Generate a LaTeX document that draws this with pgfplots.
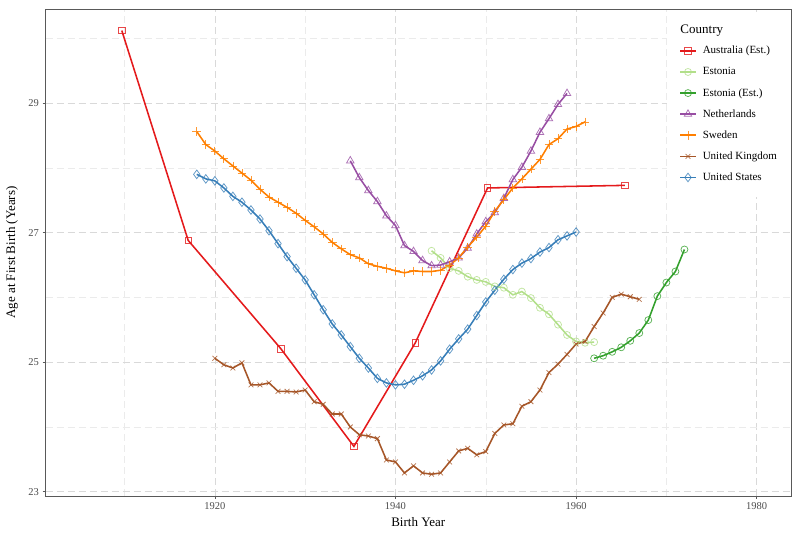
\documentclass[border=0pt]{standalone}
\usepackage{fontspec}
\setmainfont{Liberation Serif}
\usepackage{pgfplots}
\pgfplotsset{compat=1.18}
\definecolor{cAus}{HTML}{E41A1C}
\definecolor{cEst}{HTML}{B2DF8A}
\definecolor{cEstE}{HTML}{33A02C}
\definecolor{cNL}{HTML}{984EA3}
\definecolor{cSwe}{HTML}{FF7F00}
\definecolor{cUK}{HTML}{A65628}
\definecolor{cUS}{HTML}{377EB8}
\begin{document}
\begin{tikzpicture}
\path[use as bounding box] (0pt,0pt) rectangle (800pt,535pt);
\begin{axis}[
  at={(45.5pt,39pt)}, anchor=south west,
  scale only axis, width=745.5pt, height=487pt,
  xmin=1901.25, xmax=1983.8, ymin=22.934, ymax=30.453,
  xtick={1920,1940,1960,1980}, minor xtick={1910,1930,1950,1970},
  ytick={23,25,27,29}, minor ytick={24,26,28,30},
  /pgf/number format/1000 sep={},
  /pgf/number format/assume math mode=true,
  tick align=outside, tick pos=left,
  major tick length=3pt, minor tick length=0pt,
  tick style={color=black!65, line width=0.6pt},
  grid=both,
  major grid style={dash pattern=on 7pt off 4pt, color=black!15, line width=0.65pt},
  minor grid style={dash pattern=on 7pt off 4pt, color=black!8, line width=0.45pt},
  axis line style={color=black!65, line width=0.7pt},
  ticklabel style={font=\fontsize{10.5}{12}\selectfont, color=black!70},
  xlabel={Birth Year}, ylabel={Age at First Birth (Years)},
  label style={font=\fontsize{13}{15}\selectfont},
  xlabel style={at={(axis description cs:0.5,-0.0534)}, anchor=center},
  ylabel style={at={(axis description cs:-0.0449,0.5)}, anchor=center},
  legend cell align=left,
  legend style={at={(rel axis cs:0.8498,0.9247)}, anchor=north west, draw=none, fill=none,
    inner sep=0pt, row sep=11.1pt, column sep=6pt,
    font=\fontsize{11}{13}\selectfont,
    nodes={inner sep=0pt, text height=8pt, text depth=2pt}},
  legend image code/.code={\draw[mark repeat=2,mark phase=2] plot coordinates {(0pt,0pt) (8pt,0pt) (16pt,0pt)};},
  every axis plot/.append style={line width=1.55pt, mark options={solid, line width=0.75pt, draw opacity=0.8}},
]
\fill[white] (rel axis cs:0.8337,0.9877) rectangle (rel axis cs:0.9987,0.614);
\node[anchor=west, font=\fontsize{13}{15}\selectfont] at (rel axis cs:0.847,0.955) {Country};

\addplot[color=cAus, mark=square, mark size=3.3pt] table {
x y
1909.7 30.12
1917.05 26.88
1927.3 25.21
1935.4 23.70
1942.2 25.30
1950.2 27.69
1965.4 27.73
};
\addlegendentry{Australia (Est.)}

\addplot[color=cEst, mark=o, mark size=3.5pt] table {
x y
1944 26.72
1945 26.61
1946 26.45
1947 26.41
1948 26.32
1949 26.27
1950 26.24
1951 26.17
1952 26.15
1953 26.04
1954 26.09
1955 25.99
1956 25.84
1957 25.74
1958 25.58
1959 25.42
1960 25.32
1961 25.30
1962 25.31
};
\addlegendentry{Estonia}

\addplot[color=cEstE, mark=o, mark size=3.5pt] table {
x y
1962 25.06
1963 25.10
1964 25.16
1965 25.23
1966 25.33
1967 25.45
1968 25.65
1969 26.02
1970 26.23
1971 26.40
1972 26.74
};
\addlegendentry{Estonia (Est.)}

\addplot[color=cNL, mark=triangle, mark size=4.3pt] table {
x y
1935 28.11
1936 27.85
1937 27.65
1938 27.48
1939 27.26
1940 27.11
1941 26.80
1942 26.71
1943 26.57
1944 26.49
1945 26.50
1946 26.55
1947 26.61
1948 26.76
1949 26.98
1950 27.17
1951 27.31
1952 27.53
1953 27.82
1954 28.01
1955 28.26
1956 28.55
1957 28.76
1958 28.98
1959 29.15
};
\addlegendentry{Netherlands}

\addplot[color=cSwe, mark=+, mark size=4.3pt] table {
x y
1918 28.56
1919 28.36
1920 28.26
1921 28.14
1922 28.03
1923 27.92
1924 27.81
1925 27.67
1926 27.55
1927 27.47
1928 27.39
1929 27.30
1930 27.19
1931 27.09
1932 26.98
1933 26.85
1934 26.75
1935 26.66
1936 26.61
1937 26.52
1938 26.48
1939 26.45
1940 26.41
1941 26.38
1942 26.41
1943 26.40
1944 26.40
1945 26.42
1946 26.50
1947 26.61
1948 26.78
1949 26.93
1950 27.10
1951 27.33
1952 27.51
1953 27.69
1954 27.83
1955 27.98
1956 28.13
1957 28.36
1958 28.45
1959 28.60
1960 28.64
1961 28.71
};
\addlegendentry{Sweden}

\addplot[color=cUK, mark=x, mark size=3.4pt] table {
x y
1920 25.06
1921 24.96
1922 24.91
1923 24.99
1924 24.65
1925 24.65
1926 24.68
1927 24.55
1928 24.55
1929 24.54
1930 24.57
1931 24.39
1932 24.35
1933 24.20
1934 24.20
1935 24.00
1936 23.88
1937 23.86
1938 23.82
1939 23.49
1940 23.46
1941 23.29
1942 23.40
1943 23.29
1944 23.27
1945 23.29
1946 23.46
1947 23.63
1948 23.67
1949 23.57
1950 23.62
1951 23.90
1952 24.03
1953 24.05
1954 24.32
1955 24.39
1956 24.57
1957 24.84
1958 24.97
1959 25.12
1960 25.28
1961 25.32
1962 25.55
1963 25.76
1964 26.00
1965 26.05
1966 26.01
1967 25.97
};
\addlegendentry{United Kingdom}

\addplot[color=cUS, mark=diamond, mark size=4.3pt] table {
x y
1918 27.90
1919 27.83
1920 27.80
1921 27.69
1922 27.56
1923 27.47
1924 27.35
1925 27.21
1926 27.03
1927 26.83
1928 26.63
1929 26.45
1930 26.27
1931 26.04
1932 25.81
1933 25.59
1934 25.42
1935 25.24
1936 25.06
1937 24.91
1938 24.75
1939 24.68
1940 24.65
1941 24.66
1942 24.72
1943 24.79
1944 24.88
1945 25.02
1946 25.20
1947 25.36
1948 25.51
1949 25.72
1950 25.93
1951 26.11
1952 26.28
1953 26.43
1954 26.53
1955 26.60
1956 26.70
1957 26.77
1958 26.89
1959 26.95
1960 27.01
};
\addlegendentry{United States}
\end{axis}
\end{tikzpicture}
\end{document}
